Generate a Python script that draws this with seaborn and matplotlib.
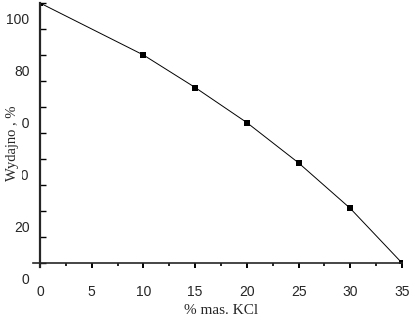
import matplotlib
matplotlib.use("Agg")
import matplotlib.pyplot as plt
import matplotlib.transforms as mtransforms
from matplotlib.ticker import MultipleLocator, FixedLocator
import seaborn as sns
import pandas as pd

kcl = [0, 10, 15, 20, 25, 30, 35]
yield_pct = [100, 80, 67.5, 54, 38.5, 21, 0]
x_ticks = [0, 5, 10, 15, 20, 25, 30, 35]
y_ticks = [0, 20, 40, 60, 80, 100]
y_tick_labels = ["0", "20", "40", "60", "80", "100"]
x_label = "% mas. KCl"
y_label = "Wydajno , %"

sns.set_style("ticks")
df = pd.DataFrame({"kcl": kcl, "yield": yield_pct})

W, H, DPI = 412, 326, 100
fig = plt.figure(figsize=(W / DPI, H / DPI), dpi=DPI)
ax = fig.add_axes([40 / W, 1 - 263 / H, 362 / W, 260 / H])

sns.lineplot(data=df, x="kcl", y="yield", ax=ax, color="black", linewidth=0.7,
             marker="s", markersize=4.8, markeredgewidth=0, markerfacecolor="black")

ax.set_xlim(0, 35)
ax.set_ylim(0, 100)
ax.set_xlabel("")
ax.set_ylabel("")

ax.spines["top"].set_visible(False)
ax.spines["right"].set_visible(False)
ax.spines["left"].set_linewidth(1.6)
ax.spines["bottom"].set_linewidth(1.2)
ax.spines["bottom"].set_bounds(-0.7, 35)
ax.spines["left"].set_bounds(-1.5, 100)

ax.xaxis.set_major_locator(FixedLocator(x_ticks))
ax.xaxis.set_minor_locator(MultipleLocator(2.5))
ax.set_xticklabels([str(v) for v in x_ticks])
ax.tick_params(axis="x", which="major", direction="out", length=3.5, width=1.4,
               pad=12.5, labelsize=10, color="black")
ax.tick_params(axis="x", which="minor", direction="out", length=2, width=1.2, color="black")

ax.yaxis.set_major_locator(FixedLocator(y_ticks))
ax.yaxis.set_minor_locator(FixedLocator([10, 30, 50, 70, 90]))
ax.set_yticklabels(y_tick_labels)
ax.tick_params(axis="y", which="both", direction="in", length=4, width=1.0,
               pad=7.5, labelsize=10, color="black")

for lab in ax.get_xticklabels() + ax.get_yticklabels():
    lab.set_fontfamily("Liberation Sans")

offset = mtransforms.ScaledTranslation(0, -15 / DPI, fig.dpi_scale_trans)
for lab in ax.get_yticklabels():
    lab.set_transform(lab.get_transform() + offset)

fig.text(221 / W, 1 - 311 / H, x_label, ha="center", va="center",
         fontsize=11, family="Liberation Serif")
fig.text(13 / W, 1 - 143 / H, y_label, ha="center", va="center", rotation=90,
         fontsize=10.5, family="Liberation Serif", zorder=5,
         bbox=dict(facecolor="white", edgecolor="none", pad=1.5))

fig.savefig("out.png", dpi=DPI)
